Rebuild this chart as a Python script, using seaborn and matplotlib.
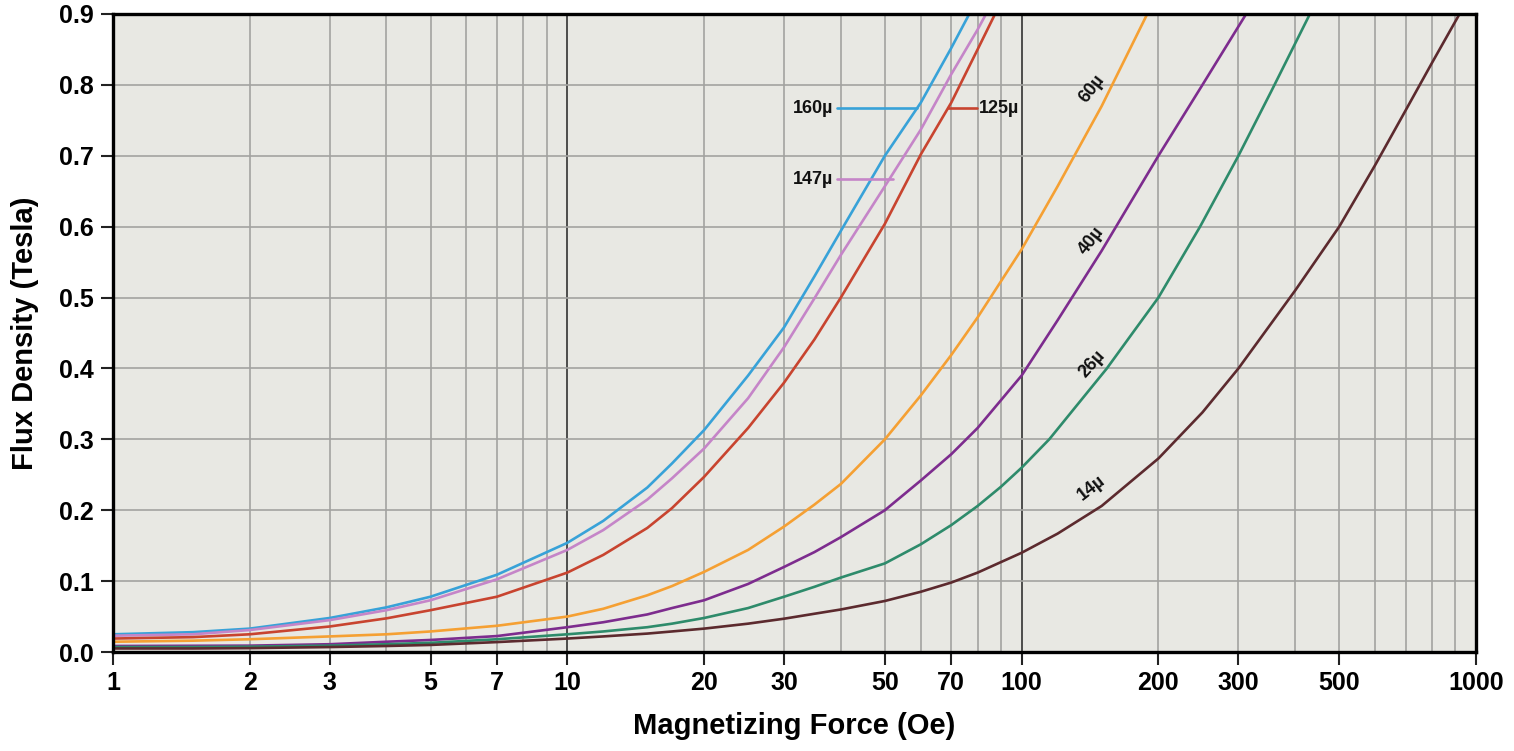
import numpy as np
import pandas as pd
import matplotlib
matplotlib.use("Agg")
import matplotlib.pyplot as plt
import seaborn as sns

# curves: magnetizing force H (Oe) vs flux density B (T)
h_160 = [1, 1.5, 2, 3, 4, 5, 7, 10, 12, 15, 17, 20, 25, 30, 35, 40, 50, 60, 70, 76.7]
b_160 = [0.025, 0.028, 0.033, 0.048, 0.063, 0.078, 0.109, 0.154, 0.185, 0.232, 0.266, 0.313,
         0.390, 0.458, 0.530, 0.594, 0.700, 0.775, 0.852, 0.9]

h_147 = [1, 1.5, 2, 3, 4, 5, 7, 10, 12, 15, 17, 20, 25, 30, 35, 40, 50, 60, 70, 80, 83.5]
b_147 = [0.023, 0.025, 0.031, 0.045, 0.059, 0.073, 0.1025, 0.144, 0.172, 0.215, 0.245, 0.287,
         0.358, 0.430, 0.499, 0.560, 0.657, 0.737, 0.815, 0.878, 0.9]

h_125 = [1, 1.5, 2, 3, 4, 5, 7, 10, 12, 15, 17, 20, 25, 30, 35, 40, 50, 60, 70, 80, 87.4]
b_125 = [0.019, 0.021, 0.025, 0.036, 0.0475, 0.059, 0.078, 0.112, 0.137, 0.175, 0.203, 0.247,
         0.316, 0.380, 0.441, 0.500, 0.604, 0.702, 0.775, 0.850, 0.9]

h_60 = [1, 1.5, 2, 3, 4, 5, 7, 10, 12, 15, 17, 20, 25, 30, 35, 40, 50, 60, 70, 80, 100,
        120, 150, 189]
b_60 = [0.0145, 0.016, 0.018, 0.022, 0.025, 0.029, 0.037, 0.050, 0.061, 0.080, 0.093, 0.113,
        0.144, 0.177, 0.208, 0.237, 0.300, 0.362, 0.419, 0.472, 0.568, 0.657, 0.770, 0.9]

h_40 = [1, 1.5, 2, 3, 4, 5, 7, 10, 12, 15, 17, 20, 25, 30, 35, 40, 50, 60, 70, 80, 100,
        120, 150, 200, 250, 312]
b_40 = [0.0085, 0.0088, 0.009, 0.011, 0.0145, 0.017, 0.0225, 0.035, 0.042, 0.053, 0.062, 0.073,
        0.096, 0.120, 0.141, 0.162, 0.200, 0.242, 0.279, 0.316, 0.390, 0.468, 0.566, 0.700,
        0.800, 0.9]

h_26 = [1, 1.5, 2, 3, 4, 5, 7, 10, 12, 15, 17, 20, 25, 30, 35, 40, 50, 60, 70, 80, 90, 100,
        115, 130, 154, 175, 200, 247, 300, 355, 431]
b_26 = [0.007, 0.007, 0.0075, 0.009, 0.011, 0.013, 0.018, 0.025, 0.029, 0.035, 0.040, 0.048,
        0.062, 0.078, 0.092, 0.105, 0.125, 0.152, 0.179, 0.206, 0.233, 0.260, 0.300, 0.342,
        0.400, 0.449, 0.500, 0.600, 0.700, 0.792, 0.9]

h_14 = [1, 1.5, 2, 3, 4, 5, 7, 10, 12, 15, 17, 20, 25, 30, 35, 40, 50, 60, 70, 80, 100, 120,
        150, 200, 250, 300, 400, 500, 600, 700, 800, 920]
b_14 = [0.005, 0.005, 0.0055, 0.007, 0.0085, 0.010, 0.014, 0.019, 0.022, 0.026, 0.029, 0.033,
        0.040, 0.047, 0.054, 0.060, 0.072, 0.085, 0.098, 0.112, 0.140, 0.167, 0.206, 0.273,
        0.338, 0.400, 0.510, 0.600, 0.687, 0.764, 0.831, 0.9]

series = ["160µ", "147µ", "125µ", "60µ", "40µ", "26µ", "14µ"]
colors = ["#38a2d8", "#c585c8", "#c8442f", "#f5a033", "#7d2c8e", "#2e8b6b", "#5c2a2e"]
xticks = [1, 2, 3, 5, 7, 10, 20, 30, 50, 70, 100, 200, 300, 500, 1000]
yticks = [0.0, 0.1, 0.2, 0.3, 0.4, 0.5, 0.6, 0.7, 0.8, 0.9]

all_h = [h_160, h_147, h_125, h_60, h_40, h_26, h_14]
all_b = [b_160, b_147, b_125, b_60, b_40, b_26, b_14]
frames = []
for name, h, b in zip(series, all_h, all_b):
    frames.append(pd.DataFrame({"H": h, "B": b, "perm": name}))
df = pd.concat(frames, ignore_index=True)

sns.set_style("ticks")
plt.rcParams['font.family'] = ['Liberation Sans', 'DejaVu Sans']
plt.rcParams['font.weight'] = 'bold'
plt.rcParams['axes.labelweight'] = 'bold'
plt.rcParams['text.color'] = 'black'
plt.rcParams['axes.labelcolor'] = 'black'
plt.rcParams['xtick.color'] = 'black'
plt.rcParams['ytick.color'] = 'black'

fig = plt.figure(figsize=(15.14, 7.51), dpi=100)
ax = fig.add_axes([0.0746, 0.1318, 0.9003, 0.8496])
ax.set_facecolor("#e8e8e3")

ax.set_xscale("log")
ax.set_xlim(1, 1000)
ax.set_ylim(0, 0.9)

# grid: every minor decade step, dark lines at 10 and 100
for dec in [1, 10, 100]:
    for m in range(2, 10):
        ax.axvline(dec * m, color="#a3a3a0", lw=1.2, zorder=1)
for v in [10, 100]:
    ax.axvline(v, color="#222222", lw=1.1, zorder=1)
for v in yticks[1:]:
    ax.axhline(v, color="#a3a3a0", lw=1.2, zorder=1)

sns.lineplot(data=df, x="H", y="B", hue="perm", hue_order=series,
             palette=colors, sort=False, estimator=None, lw=1.9,
             legend=False, ax=ax, zorder=3)

ax.set_xticks(xticks)
ax.set_xticklabels([str(t) for t in xticks])
ax.xaxis.set_minor_locator(matplotlib.ticker.NullLocator())
ax.set_yticks(yticks)
ax.set_yticklabels([f"{t:.1f}" for t in yticks])
ax.tick_params(axis="both", length=9, width=1.5, color="#222222", labelsize=18, pad=5)

for s in ax.spines.values():
    s.set_linewidth(2.4)
    s.set_color("black")
    s.set_zorder(5)

ax.set_xlabel("Magnetizing Force (Oe)", fontsize=21, labelpad=12)
ax.set_ylabel("Flux Density (Tesla)", fontsize=21, labelpad=14)

# curve labels with leader lines
lab_kw = dict(fontsize=13, fontweight="bold", color="#111111", zorder=6)
ax.plot([39.3, 58.9], [0.767, 0.767], color=colors[0], lw=1.9, zorder=4)
ax.text(38.4, 0.767, "160µ", ha="right", va="center", **lab_kw)
ax.plot([39.3, 52.2], [0.667, 0.667], color=colors[1], lw=1.9, zorder=4)
ax.text(38.4, 0.667, "147µ", ha="right", va="center", **lab_kw)
ax.plot([69.0, 79.6], [0.767, 0.767], color=colors[2], lw=1.9, zorder=4)
ax.text(80.5, 0.767, "125µ", ha="left", va="center", **lab_kw)

ax.text(142.7, 0.794, "60µ", ha="center", va="center", rotation=52, **lab_kw)
ax.text(142.7, 0.58, "40µ", ha="center", va="center", rotation=52, **lab_kw)
ax.text(142.7, 0.406, "26µ", ha="center", va="center", rotation=48, **lab_kw)
ax.text(142.7, 0.231, "14µ", ha="center", va="center", rotation=38, **lab_kw)

fig.savefig("out.png", dpi=100, facecolor="white")
